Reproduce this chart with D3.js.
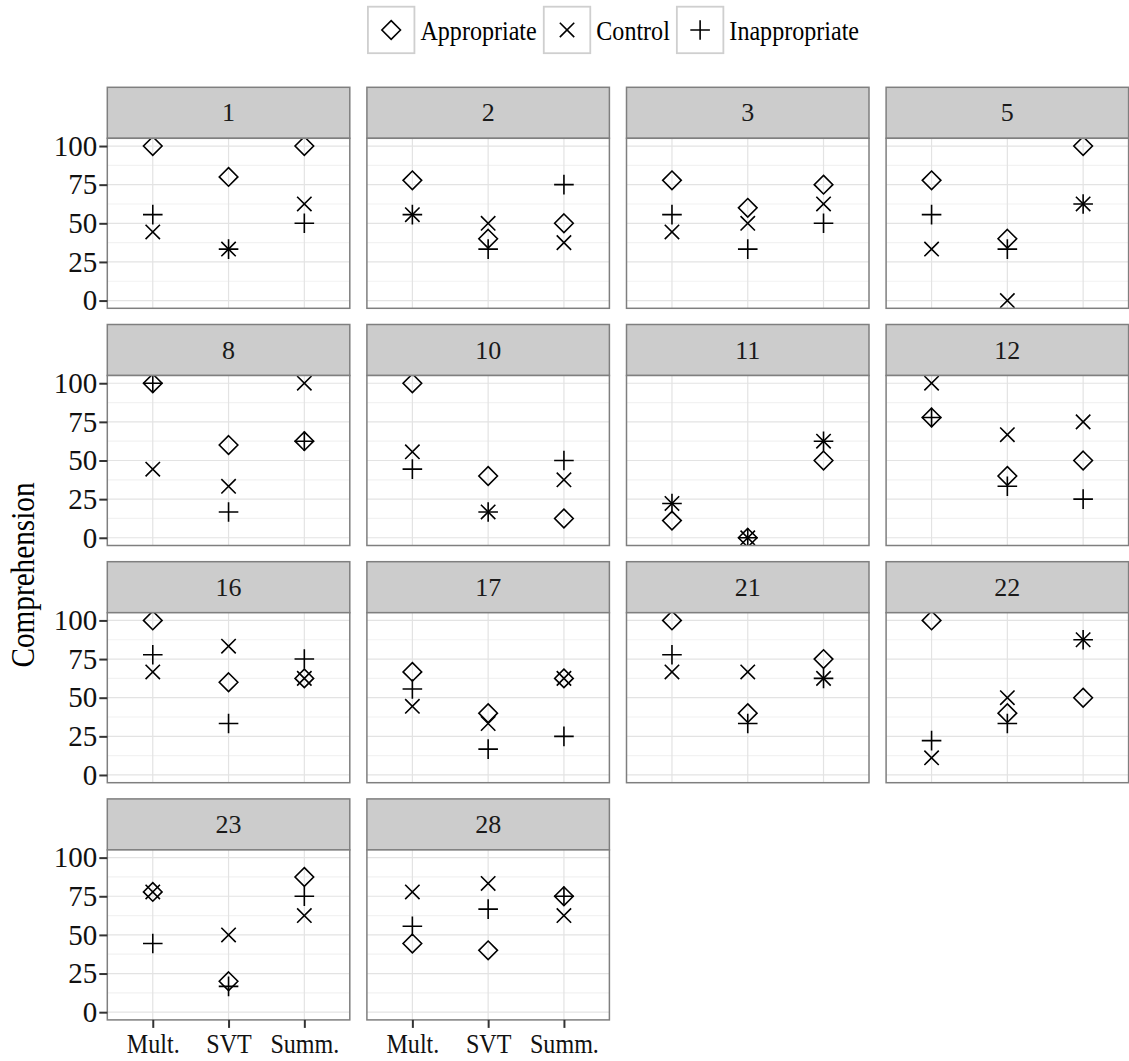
<!DOCTYPE html>
<html>
<head>
<meta charset="utf-8">
<script src="https://cdn.jsdelivr.net/npm/d3@7"></script>
<style>
  body { margin: 0; background: white; }
  svg { display: block; }
</style>
</head>
<body>
<div id="chart"></div>
<script>
// facets, x categories and one array per series (rows follow the facets)
const facets = ["1", "2", "3", "5", "8", "10", "11", "12", "16", "17", "21", "22", "23", "28"];
const categories = ["Mult.", "SVT", "Summ."];
const appropriate = [
  [100, 80, 100], [77.8, 40, 50], [77.8, 60, 75], [77.8, 40, 100],
  [100, 60, 62.5], [100, 40, 12.5], [11.1, 0, 50], [77.8, 40, 50],
  [100, 60, 62.5], [66.7, 40, 62.5], [100, 40, 75], [100, 40, 50],
  [77.8, 20, 87.5], [44.4, 40, 75]
];
const control = [
  [44.4, 33.3, 62.5], [55.6, 50, 37.5], [44.4, 50, 62.5], [33.3, 0, 62.5],
  [44.4, 33.3, 100], [55.6, 16.7, 37.5], [22.2, 0, 62.5], [100, 66.7, 75],
  [66.7, 83.3, 62.5], [44.4, 33.3, 62.5], [66.7, 66.7, 62.5], [11.1, 50, 87.5],
  [77.8, 50, 62.5], [77.8, 83.3, 62.5]
];
const inappropriate = [
  [55.6, 33.3, 50], [55.6, 33.3, 75], [55.6, 33.3, 50], [55.6, 33.3, 62.5],
  [100, 16.7, 62.5], [44.4, 16.7, 50], [22.2, 0, 62.5], [77.8, 33.3, 25],
  [77.8, 33.3, 75], [55.6, 16.7, 25], [77.8, 33.3, 62.5], [22.2, 33.3, 87.5],
  [44.4, 16.7, 75], [55.6, 66.7, 75]
];
const yTicks = [0, 25, 50, 75, 100];
const yMinor = [12.5, 37.5, 62.5, 87.5];
const yTitle = "Comprehension";

const W = 1129, H = 1061;
const nCols = 4;
const left0 = 107.3, colStep = 259.6, panelW = 242.5;
const top0 = 87.3, rowStep = 237.2, stripH = 51, panelH = 170;
const font = "Liberation Serif";
const squeeze = 0.86;   // the original serif is narrower than Liberation

// marker shapes like ggplot 5, 4, 3
const shapes = {
  diamond: r => `M0,${-r}L${r},0L0,${r}L${-r},0Z`,
  cross: r => `M${-r},${-r}L${r},${r}M${-r},${r}L${r},${-r}`,
  plus: r => `M${-r},0H${r}M0,${-r}V${r}`
};
const series = [
  {name: "Appropriate", values: appropriate, shape: "diamond", r: 9.3},
  {name: "Control", values: control, shape: "cross", r: 7.2},
  {name: "Inappropriate", values: inappropriate, shape: "plus", r: 9.8}
];

const svg = d3.select("#chart").append("svg")
  .attr("width", W).attr("height", H)
  .attr("font-family", font);
svg.append("rect").attr("width", W).attr("height", H).attr("fill", "white");

svg.append("defs").append("clipPath").attr("id", "panel-clip")
  .append("rect").attr("width", panelW).attr("height", panelH);

let x = d3.scalePoint().domain(categories).range([0, panelW]).padding(0.6);
let y = d3.scaleLinear().domain([-5, 105]).range([panelH, 0]);

const lastRow = Math.floor((facets.length - 1) / nCols);

facets.forEach(function(f, i){
  let c = i % nCols, r = Math.floor(i / nCols);
  let g = svg.append("g")
    .attr("transform", "translate(" + (left0 + c * colStep) + "," + (top0 + r * rowStep) + ")");

  // strip
  g.append("rect")
    .attr("width", panelW).attr("height", stripH)
    .attr("fill", "#cccccc").attr("stroke", "#7f7f7f").attr("stroke-width", 1.5);
  g.append("text")
    .attr("x", panelW / 2).attr("y", stripH / 2).attr("dy", "0.33em")
    .attr("text-anchor", "middle")
    .attr("font-family", font).attr("font-size", 26).attr("fill", "#1a1a1a")
    .text(f);

  let p = g.append("g").attr("transform", "translate(0," + stripH + ")");
  p.append("rect").attr("width", panelW).attr("height", panelH).attr("fill", "white");

  p.selectAll(".minor").data(yMinor).enter().append("line")
    .attr("x1", 0).attr("x2", panelW)
    .attr("y1", d => y(d)).attr("y2", d => y(d))
    .attr("stroke", "#f2f2f2").attr("stroke-width", 1.2);
  p.selectAll(".hmajor").data(yTicks).enter().append("line")
    .attr("x1", 0).attr("x2", panelW)
    .attr("y1", d => y(d)).attr("y2", d => y(d))
    .attr("stroke", "#e3e3e3").attr("stroke-width", 1.2);
  p.selectAll(".vmajor").data(categories).enter().append("line")
    .attr("y1", 0).attr("y2", panelH)
    .attr("x1", d => x(d)).attr("x2", d => x(d))
    .attr("stroke", "#e3e3e3").attr("stroke-width", 1.2);

  let pts = p.append("g").attr("clip-path", "url(#panel-clip)");
  series.forEach(function(s){
    pts.selectAll(null)
      .data(categories.map((cat, j) => ({cat: cat, v: s.values[i][j]})))
      .enter().append("path")
      .attr("d", shapes[s.shape](s.r))
      .attr("transform", d => "translate(" + x(d.cat) + "," + y(d.v) + ")")
      .attr("fill", "none").attr("stroke", "black").attr("stroke-width", 1.6);
  });

  p.append("rect").attr("width", panelW).attr("height", panelH)
    .attr("fill", "none").attr("stroke", "#7f7f7f").attr("stroke-width", 1.5);

  if(c === 0){
    let ya = p.append("g")
      .call(d3.axisLeft(y).tickValues(yTicks).tickSize(8).tickPadding(2))
      .attr("font-family", font).attr("font-size", 29);
    ya.select(".domain").remove();
    ya.selectAll(".tick line").attr("stroke", "#333").attr("stroke-width", 2);
    ya.selectAll(".tick text").attr("fill", "#111");
  }
  if(r === lastRow){
    let xa = p.append("g").attr("transform", "translate(0," + panelH + ")")
      .call(d3.axisBottom(x).tickSize(8).tickPadding(5))
      .attr("font-family", font).attr("font-size", 28);
    xa.select(".domain").remove();
    xa.selectAll(".tick line").attr("stroke", "#333").attr("stroke-width", 2);
    xa.selectAll(".tick text").attr("fill", "#111")
      .attr("transform", "scale(" + squeeze + ",1)");
  }
});

// y title
svg.append("text")
  .attr("transform", "translate(34,575) rotate(-90) scale(" + squeeze + ",1)")
  .attr("text-anchor", "middle")
  .attr("font-family", font).attr("font-size", 34).attr("fill", "black")
  .text(yTitle);

// legend on top
const keySize = 46.5, keyTop = 6.7, legendCenter = 613.5;
let legend = svg.append("g");
let items = series.map(function(s){
  let t = legend.append("text")
    .attr("font-family", font).attr("font-size", 28).attr("fill", "black")
    .text(s.name);
  return {s: s, t: t, w: t.node().getComputedTextLength() * squeeze};
});
let total = d3.sum(items, d => keySize + 6 + d.w) + 7 * (items.length - 1);
let cx = legendCenter - total / 2;
items.forEach(function(d){
  legend.append("rect")
    .attr("x", cx).attr("y", keyTop).attr("width", keySize).attr("height", keySize)
    .attr("fill", "white").attr("stroke", "#cfcfcf").attr("stroke-width", 1.8);
  legend.append("path")
    .attr("d", shapes[d.s.shape](d.s.r))
    .attr("transform", "translate(" + (cx + keySize / 2) + "," + (keyTop + keySize / 2) + ")")
    .attr("fill", "none").attr("stroke", "black").attr("stroke-width", 1.6);
  d.t.attr("transform", "translate(" + (cx + keySize + 6) + ",40) scale(" + squeeze + ",1)");
  cx += keySize + 6 + d.w + 7;
});
</script>
</body>
</html>
